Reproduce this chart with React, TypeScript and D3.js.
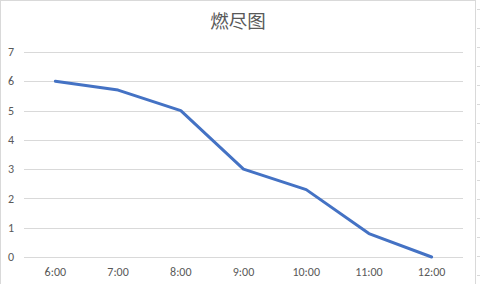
import React from "react";
import * as d3 from "d3";

const categories = ["6:00", "7:00", "8:00", "9:00", "10:00", "11:00", "12:00"];
const remaining = [6, 5.7, 5, 3, 2.3, 0.8, 0];
const yTicks = [0, 1, 2, 3, 4, 5, 6, 7];
const title = "燃尽图";

const W = 480;
const H = 284;
const plot = { left: 24, right: 463, top: 52, bottom: 257 };

export default function App() {
  const x = d3
    .scaleBand<string>()
    .domain(categories)
    .range([plot.left, plot.right]);
  const y = d3.scaleLinear().domain([0, 7]).range([plot.bottom, plot.top]);
  const line = d3
    .line<number>()
    .x((_, i) => (x(categories[i]) as number) + x.bandwidth() / 2)
    .y((d) => y(d));
  const rowLines = d3.range(0, H, 19);
  const font = "Calibri, Carlito, 'Liberation Sans', 'Noto Sans CJK SC', sans-serif";
  return (
    <svg
      width={W}
      height={H}
      style={{ position: "fixed", left: 0, top: 0, background: "#fff" }}
    >
      <rect x={0.5} y={0.5} width={475} height={H + 5} fill="#fff" stroke="#d9d9d9" />
      {rowLines.map((r) => (
        <line key={r} x1={477} x2={480} y1={r + 9.5} y2={r + 9.5} stroke="#d9d9d9" />
      ))}
      <text
        x={238}
        y={28}
        textAnchor="middle"
        fontSize={18.5}
        fill="#595959"
        fontFamily="'Noto Sans CJK SC', sans-serif"
      >
        {title}
      </text>
      {yTicks.map((t) => (
        <g key={t}>
          <line
            x1={plot.left}
            x2={plot.right}
            y1={Math.round(y(t)) + 0.5}
            y2={Math.round(y(t)) + 0.5}
            stroke="#d9d9d9"
            strokeWidth={1}
          />
          <text
            x={14}
            y={y(t)}
            dy="0.35em"
            textAnchor="end"
            fontSize={12}
            fill="#595959"
            fontFamily={font}
          >
            {t}
          </text>
        </g>
      ))}
      {categories.map((c) => (
        <text
          key={c}
          x={(x(c) as number) + x.bandwidth() / 2}
          y={276}
          textAnchor="middle"
          fontSize={12}
          fill="#595959"
          fontFamily={font}
        >
          {c}
        </text>
      ))}
      <path
        d={line(remaining) || ""}
        fill="none"
        stroke="#4472C4"
        strokeWidth={3}
        strokeLinecap="round"
        strokeLinejoin="round"
      />
    </svg>
  );
}
